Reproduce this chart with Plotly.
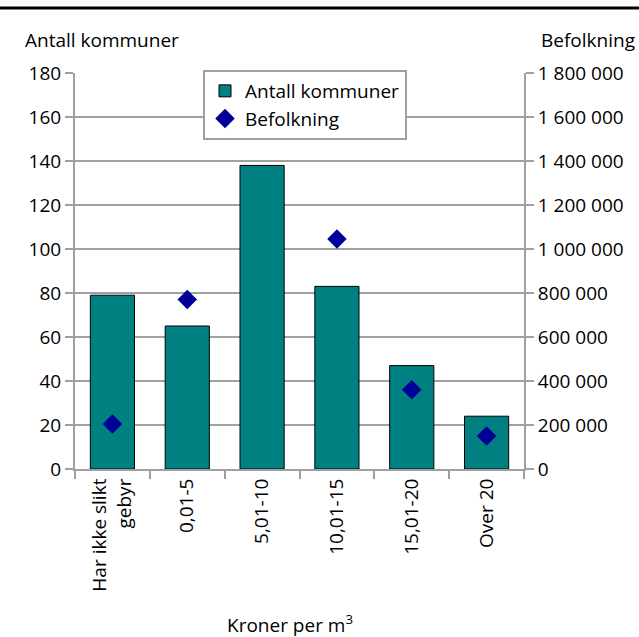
import plotly.graph_objects as go

categories = ["Har ikke slikt<br>gebyr", "0,01-5", "5,01-10", "10,01-15", "15,01-20", "Over 20"]
antall_kommuner = [79, 65, 138, 83, 47, 24]
befolkning = [205000, 770000, None, 1045000, 360000, 150000]
left_ticks = [0, 20, 40, 60, 80, 100, 120, 140, 160, 180]
right_ticks = [0, 200000, 400000, 600000, 800000, 1000000, 1200000, 1400000, 1600000, 1800000]
right_labels = ["0", "200 000", "400 000", "600 000", "800 000", "1 000 000",
                "1 200 000", "1 400 000", "1 600 000", "1 800 000"]

FONT = "Open Sans"
FS = 19
GRID = "#a0a0a0"
L, R, T, B = 75, 115, 73, 168
W, H = 639, 637
pw, ph = W - L - R, H - T - B

fig = go.Figure()
fig.add_trace(go.Bar(x=categories, y=antall_kommuner, name="Antall kommuner",
                     marker=dict(color="#008080", line=dict(color="black", width=1)),
                     width=0.59))
fig.add_trace(go.Scatter(x=categories, y=befolkning, name="Befolkning", yaxis="y2",
                         mode="markers",
                         marker=dict(symbol="diamond", size=15, color="#000099")))

fig.update_layout(
    width=W, height=H,
    margin=dict(l=L, r=R, t=T, b=B),
    paper_bgcolor="white", plot_bgcolor="white",
    font=dict(family=FONT, size=FS, color="black"),
    showlegend=True,
    legend=dict(x=(203 - L) / pw, y=(469 - 70) / ph, xanchor="left", yanchor="top",
                bgcolor="white", bordercolor=GRID, borderwidth=2,
                font=dict(size=FS), itemwidth=30, tracegroupgap=0),
    bargap=0.41,
    xaxis=dict(showline=True, linecolor=GRID, linewidth=2, ticks="outside",
               tickson="boundaries", ticklen=8, tickcolor=GRID, tickwidth=2,
               tickangle=-90, showgrid=False, tickfont=dict(size=FS)),
    yaxis=dict(range=[0, 180], tickvals=left_ticks, showline=True, linecolor=GRID,
               linewidth=2, ticks="outside", ticklen=8, tickcolor=GRID, tickwidth=2,
               showgrid=True, gridcolor=GRID, gridwidth=2, zeroline=False,
               tickfont=dict(size=FS)),
    yaxis2=dict(range=[0, 1800000], tickvals=right_ticks, ticktext=right_labels,
                overlaying="y", side="right", showline=True, linecolor=GRID,
                linewidth=2, ticks="outside", ticklen=8, tickcolor=GRID, tickwidth=2,
                showgrid=False, zeroline=False, tickfont=dict(size=FS)),
    shapes=[dict(type="line", xref="paper", yref="paper",
                 x0=-L / pw, x1=(W - L) / pw,
                 y0=(H - B - 8) / ph, y1=(H - B - 8) / ph,
                 line=dict(color="black", width=3))],
    annotations=[
        dict(text="Antall kommuner", xref="paper", yref="paper",
             x=(23 - L) / pw, y=(469 - 40) / ph, xanchor="left", yanchor="middle",
             showarrow=False, font=dict(size=FS)),
        dict(text="Befolkning", xref="paper", yref="paper",
             x=(637 - L) / pw, y=(469 - 40) / ph, xanchor="right", yanchor="middle",
             showarrow=False, font=dict(size=FS)),
        dict(text="Kroner per m<sup>3</sup>", xref="paper", yref="paper",
             x=(290 - L) / pw, y=(469 - 624) / ph, xanchor="center", yanchor="middle",
             showarrow=False, font=dict(size=FS)),
    ],
)

fig.write_html("out.html")
